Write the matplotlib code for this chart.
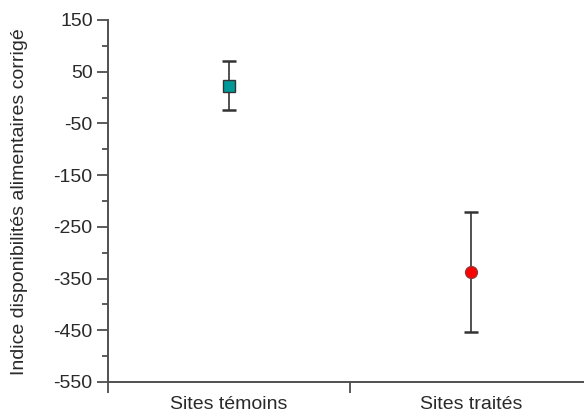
import matplotlib.pyplot as plt
from matplotlib.ticker import FixedLocator

plt.rcParams['font.family'] = ['Liberation Sans', 'DejaVu Sans']

categories = ['Sites témoins', 'Sites traités']
means = [22.5, -338]
errors = [47.5, 116]
colors = ['#009999', '#ff0000']
markers = ['s', 'o']
labelled_ticks = [150, 50, -50, -150, -250, -350, -450, -550]
small_ticks = [100, 0, -100, -200, -300, -400, -500]

fig = plt.figure(figsize=(5.84, 4.18), dpi=100)
# axis runs past the right edge, as in the original
ax = fig.add_axes([108 / 584, 1 - 382 / 418, (592 - 108) / 584, (382 - 20) / 418])

xs = [0.5, 1.5]
for x, m, e, c, mk in zip(xs, means, errors, colors, markers):
    ax.errorbar(x, m, yerr=e, fmt='none', ecolor='#333333', elinewidth=1.2,
                capsize=5, capthick=1.8, zorder=2)
    ax.plot(x, m, marker=mk, markersize=8.5, color=c,
            markeredgecolor='#333333' if mk == 's' else '#993333',
            markeredgewidth=1, linestyle='none', zorder=3)

ax.set_xlim(0, 2)
ax.set_ylim(-550, 150)
ax.yaxis.set_major_locator(FixedLocator(labelled_ticks))
ax.yaxis.set_minor_locator(FixedLocator(small_ticks))
ax.set_yticklabels([str(v) for v in labelled_ticks])
ax.set_xticks([0, 1, 2])
ax.set_xticklabels(['', '', ''])
for x, lab in zip(xs, categories):
    ax.text(x, -0.04, lab, transform=ax.get_xaxis_transform(), ha='center',
            va='top', fontsize=14, color='#2a2a2a')

for s in ['top', 'right']:
    ax.spines[s].set_visible(False)
for s in ['left', 'bottom']:
    ax.spines[s].set_color('#505050')
    ax.spines[s].set_linewidth(1.4)
ax.tick_params(axis='both', which='major', colors='#404040', length=8, width=1.2,
               labelsize=14, labelcolor='#2a2a2a', pad=3)
ax.tick_params(axis='y', which='minor', colors='#404040', length=4.5, width=1.2)

fig.text(20 / 584, 1 - 202 / 418, 'Indice disponibilités alimentaires corrigé',
         rotation=90, ha='center', va='center', fontsize=14, color='#2a2a2a')

fig.savefig('out.png', dpi=100)
